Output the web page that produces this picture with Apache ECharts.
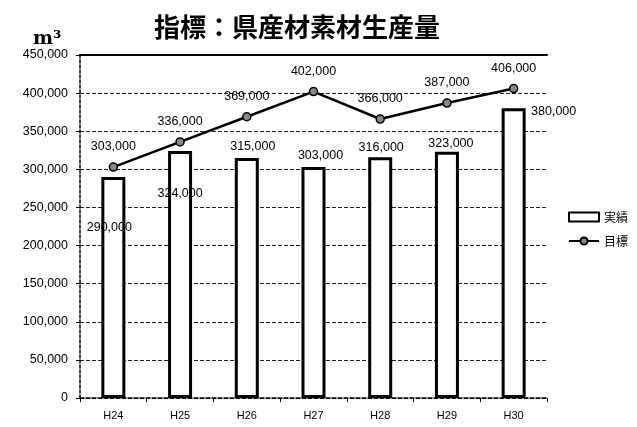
<!DOCTYPE html>
<html><head><meta charset="utf-8">
<script src="https://cdn.jsdelivr.net/npm/echarts@6/dist/echarts.min.js"></script>
<style>html,body{margin:0;padding:0;background:#fff}#c{width:637px;height:427px}</style>
</head><body><div id="c"></div>
<script>
const categories = ['H24','H25','H26','H27','H28','H29','H30'];
const actual = [290000, 324000, 315000, 303000, 316000, 323000, 380000];
const target = [303000, 336000, 369000, 402000, 366000, 387000, 406000];
const yTicks = [0, 50000, 100000, 150000, 200000, 250000, 300000, 350000, 400000, 450000];

const fmt = v => v.toLocaleString('en-US');
const font = 'Liberation Sans, Arial, sans-serif';
// label positions relative to each bar's top-left corner (style only)
const barLabelPos = [[8,51],[12,43],[18,-11],[19,-11],[13,-10],[16,-8],[52,3]];

const chart = echarts.init(document.getElementById('c'));
chart.setOption({
  animation: false,
  backgroundColor: '#fff',
  title: {
    text: '指標：県産材素材生産量', left: 292, top: 9, textAlign: 'center',
    textStyle: {fontFamily: 'Noto Sans CJK JP', fontWeight: 'bold', fontSize: 26, color: '#000'}
  },
  graphic: [{type: 'text', left: 33, top: 30, style: {text: 'm³', font: 'bold 19px "DejaVu Serif", serif', fill: '#000'}}],
  legend: {
    orient: 'vertical', left: 563, top: 206, itemGap: 12, itemWidth: 30, itemHeight: 9,
    textStyle: {fontFamily: 'Noto Sans CJK JP', fontSize: 12, color: '#000'},
    data: [{name: '実績', icon: 'rect'}, {name: '目標'}]
  },
  grid: {left: 80, right: 90, top: 55, bottom: 29},
  xAxis: [{
    type: 'category', data: categories,
    axisLine: {lineStyle: {color: '#000', width: 1.5, type: [4, 2]}},
    axisTick: {show: true, alignWithLabel: false, length: 4, lineStyle: {color: '#000'}},
    axisLabel: {fontFamily: font, fontSize: 11, color: '#000', margin: 12}
  }, {
    type: 'category', data: categories, position: 'top',
    axisLine: {show: true, lineStyle: {color: '#000', width: 2}},
    axisTick: {show: false}, axisLabel: {show: false}
  }],
  yAxis: {
    type: 'value', min: 0, max: 450000, interval: 50000,
    axisLine: {show: true, lineStyle: {color: '#000', width: 1.5, type: [3, 2]}},
    axisTick: {show: true, length: 4, lineStyle: {color: '#000'}},
    axisLabel: {fontFamily: font, fontSize: 12.5, color: '#000', margin: 12,
      formatter: v => yTicks.includes(v) ? fmt(v) : ''},
    splitLine: {lineStyle: {color: '#222', width: 1, type: [4, 2]}}
  },
  series: [{
    name: '実績', type: 'bar', barWidth: 24,
    itemStyle: {color: '#fff', borderColor: '#000', borderWidth: 3},
    data: actual.map((v, i) => ({
      value: v,
      label: {show: true, position: barLabelPos[i], align: 'center', verticalAlign: 'middle',
        formatter: p => fmt(p.value), fontFamily: font, fontSize: 12.5, color: '#000'}
    }))
  }, {
    name: '目標', type: 'line', symbol: 'circle', symbolSize: 8,
    lineStyle: {color: '#000', width: 2.5},
    itemStyle: {color: '#888', borderColor: '#000', borderWidth: 1.5},
    label: {show: true, position: 'top', distance: 9, formatter: p => fmt(p.value),
      fontFamily: font, fontSize: 12.5, color: '#000'},
    data: target
  }]
});
</script></body></html>
